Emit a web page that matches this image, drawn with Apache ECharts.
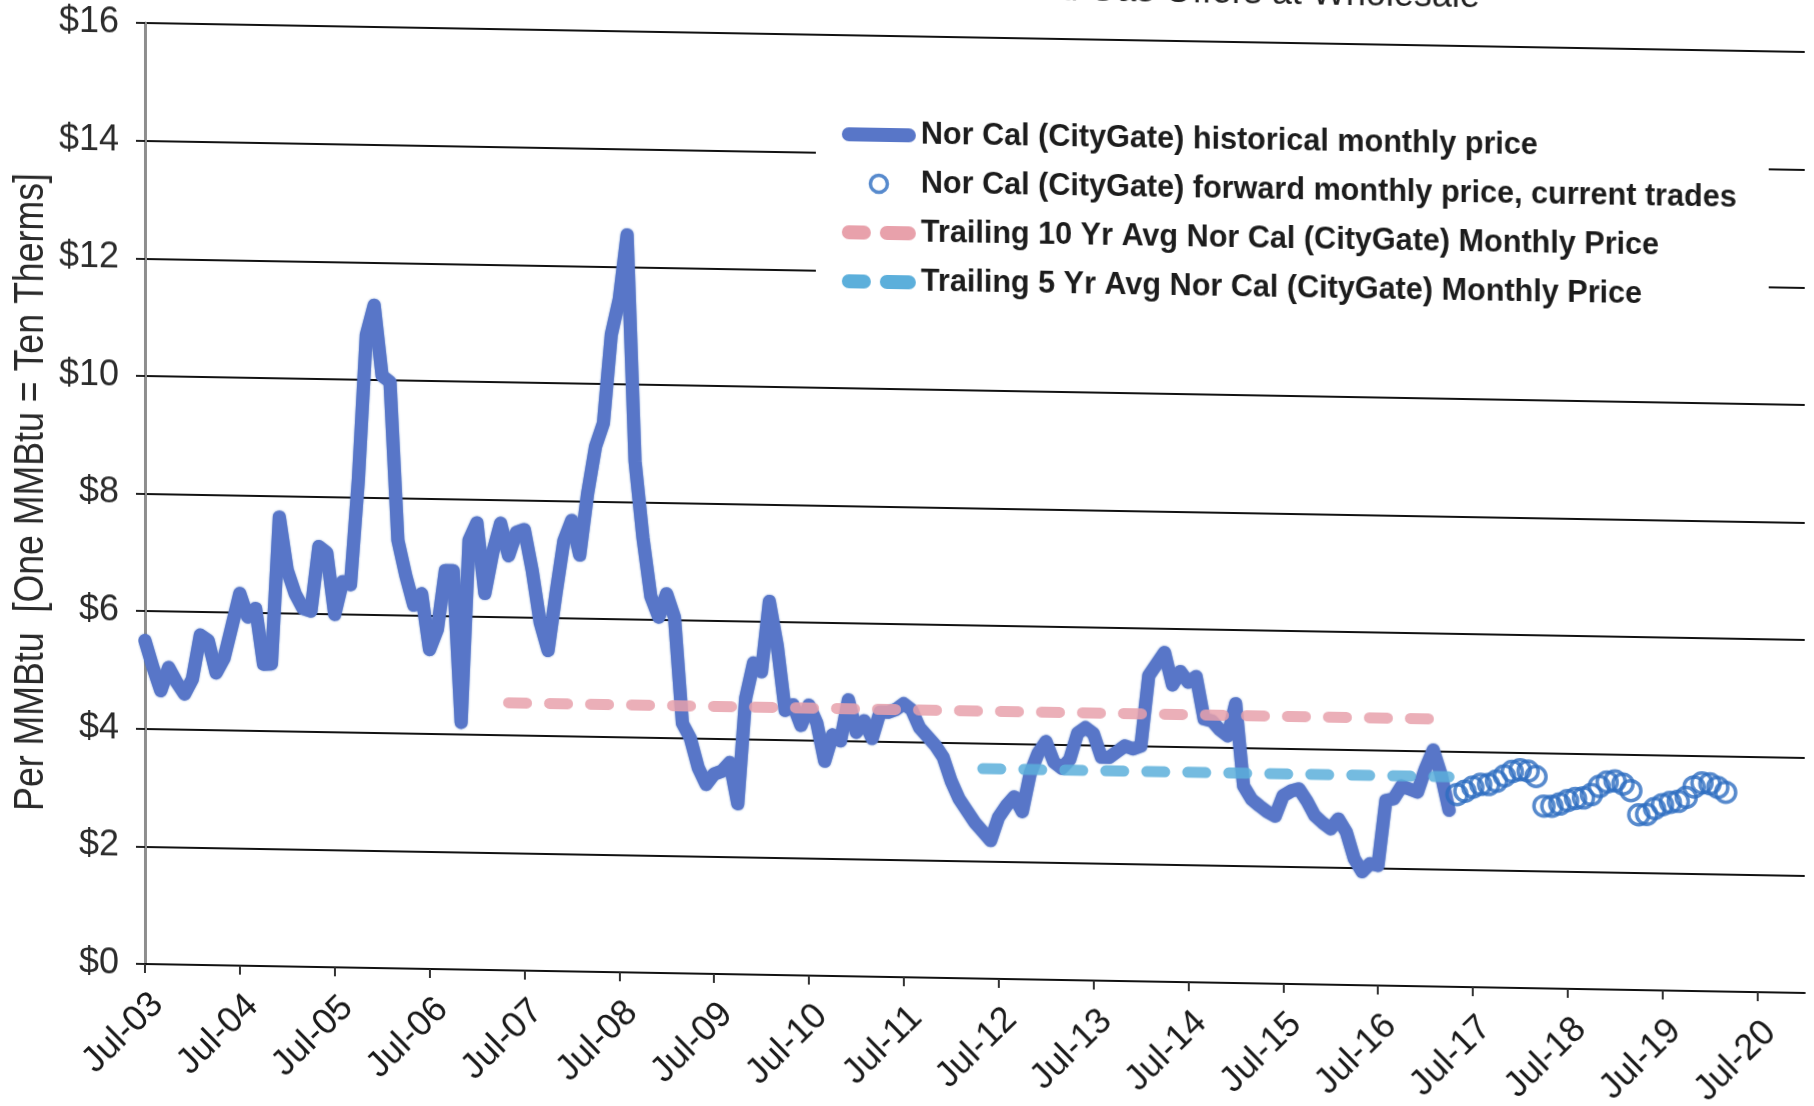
<!DOCTYPE html>
<html>
<head>
<meta charset="utf-8">
<title>Nor Cal (CityGate) Natural Gas Prices</title>
<script src="https://cdn.jsdelivr.net/npm/echarts/dist/echarts.min.js"></script>
<style>
  html, body { margin: 0; padding: 0; background: #fff; overflow: hidden; width: 1814px; height: 1106px; }
  /* the page is a slightly skewed scan: horizontals fall ~1 degree to the right */
  #chart { position: absolute; left: 0; top: -40px; width: 1814px; height: 1186px;
           transform: skewY(1deg); transform-origin: 145px 0; }
</style>
</head>
<body>
<div id="chart"></div>
<script>
// ---- monthly categories, Jul-03 through Jan-21 ----
const monthNames = ['Jan', 'Feb', 'Mar', 'Apr', 'May', 'Jun', 'Jul', 'Aug', 'Sep', 'Oct', 'Nov', 'Dec'];
const firstYear = 2003;
const firstMonth = 6;          // July
const monthCount = 211;        // Jul-03 .. Jan-21
const categories = [];
for (let i = 0; i < monthCount; i++) {
  const k = firstMonth + i;
  categories.push(monthNames[k % 12] + '-' + String((firstYear + Math.floor(k / 12)) % 100).padStart(2, '0'));
}

// ---- Nor Cal (CityGate) historical monthly price, $/MMBtu, Jul-03 .. Apr-17 ----
const historical = [
  5.50, 5.05, 4.65, 5.05, 4.80, 4.60, 4.86, 5.61, 5.52, 4.97, 5.22, 5.77,   // Jul-03 .. Jun-04
  6.33, 5.93, 6.08, 5.13, 5.14, 7.64, 6.74, 6.34, 6.09, 6.05, 7.15, 7.05,   // Jul-04 .. Jun-05
  6.00, 6.56, 6.51, 8.30, 10.76, 11.27, 10.07, 9.97, 7.28, 6.68, 6.18, 6.38, // Jul-05 .. Jun-06
  5.43, 5.78, 6.78, 6.78, 4.20, 7.30, 7.60, 6.40, 7.10, 7.60, 7.05, 7.45,   // Jul-06 .. Jun-07
  7.50, 6.80, 5.92, 5.45, 6.42, 7.32, 7.67, 7.08, 8.13, 8.93, 9.33, 10.84,  // Jul-07 .. Jun-08
  11.44, 12.54, 8.70, 7.40, 6.40, 6.05, 6.45, 6.05, 4.25, 4.00, 3.50, 3.22, // Jul-08 .. Jun-09
  3.40, 3.45, 3.60, 2.90, 4.70, 5.30, 5.15, 6.35, 5.60, 4.50, 4.60, 4.25,   // Jul-09 .. Jun-10
  4.60, 4.30, 3.65, 4.10, 4.00, 4.70, 4.15, 4.35, 4.05, 4.50, 4.50, 4.55,   // Jul-10 .. Jun-11
  4.65, 4.55, 4.25, 4.10, 3.95, 3.75, 3.35, 3.05, 2.85, 2.65, 2.50, 2.35,   // Jul-11 .. Jun-12
  2.75, 2.95, 3.10, 2.85, 3.50, 3.85, 4.05, 3.70, 3.60, 3.75, 4.20, 4.30,   // Jul-12 .. Jun-13
  4.20, 3.80, 3.80, 3.90, 4.00, 3.95, 4.00, 5.20, 5.40, 5.60, 5.05, 5.28,   // Jul-13 .. Jun-14
  5.10, 5.20, 4.48, 4.45, 4.30, 4.20, 4.75, 3.35, 3.13, 3.02, 2.92, 2.85,   // Jul-14 .. Jun-15
  3.20, 3.28, 3.32, 3.12, 2.87, 2.75, 2.65, 2.82, 2.60, 2.15, 1.93, 2.07,   // Jul-15 .. Jun-16
  2.04, 3.15, 3.18, 3.40, 3.35, 3.30, 3.70, 4.02, 3.60, 3.00                // Jul-16 .. Apr-17
];

// ---- forward monthly prices from current trades, May-17 .. Mar-20 ----
const forwardStart = 'May-17';
const forward = [
  3.27, 3.33, 3.40, 3.45, 3.45, 3.51, 3.60, 3.68, 3.71, 3.69, 3.60,         // May-17 .. Mar-18
  3.10, 3.10, 3.14, 3.20, 3.24, 3.25, 3.31, 3.45, 3.53, 3.55, 3.50, 3.39,   // Apr-18 .. Mar-19
  2.98, 2.99, 3.09, 3.16, 3.20, 3.22, 3.29, 3.47, 3.54, 3.53, 3.47, 3.39    // Apr-19 .. Mar-20
];

// ---- trailing averages and the months they span ----
const trailing10Span = ['May-07', 'Apr-17'];
const trailing10Value = 4.55;
const trailing5Span = ['May-12', 'Apr-17'];
const trailing5Value = 3.57;

const names = {
  hist: 'Nor Cal (CityGate) historical monthly price',
  fwd: 'Nor Cal (CityGate) forward monthly price, current trades',
  avg10: 'Trailing 10 Yr Avg Nor Cal (CityGate) Monthly Price',
  avg5: 'Trailing 5 Yr Avg Nor Cal (CityGate) Monthly Price'
};
const yTitle = 'Per MMBtu  [One MMBtu = Ten Therms]';
const pageTitle = 'Nor Cal Natural Gas Offers at Wholesale';

const colors = { hist: '#5876c8', fwd: '#2d6dc0', avg10: '#e8a1ab', avg5: '#5cafdb' };

const fwdIndex = categories.indexOf(forwardStart);
const forwardData = forward.map((v, i) => [fwdIndex + i, v]);
const spanData = (span, v) => span.map(c => [c, v]);

const baseFont = "'Liberation Sans', Arial, sans-serif";
const isJuly = (idx) => idx % 12 === 0;

const barIcon = 'path://M7,0H67A7,7,0,0,1,67,14H7A7,7,0,0,1,7,0Z';
const dashIcon = 'path://M7,0H22A7,7,0,0,1,22,14H7A7,7,0,0,1,7,0ZM45,0H67A7,7,0,0,1,67,14H45A7,7,0,0,1,45,0Z';

const chart = echarts.init(document.getElementById('chart'), null, { renderer: 'canvas' });

chart.setOption({
  animation: false,
  backgroundColor: '#ffffff',
  textStyle: { fontFamily: baseFont },
  graphic: [
    {
      // page heading, running off the top edge of the sheet
      type: 'text', x: 1480, y: 32, silent: true,
      style: {
        text: pageTitle, font: "36px 'Liberation Sans', Arial, sans-serif",
        fill: '#222', textAlign: 'right', textVerticalAlign: 'bottom'
      }
    },
    {
      // vertical axis title, set in a condensed face
      type: 'text', x: 31, y: 534, rotation: Math.PI / 2, scaleX: 0.85, silent: true,
      style: {
        text: yTitle, font: "42px 'Liberation Sans', Arial, sans-serif",
        fill: '#2a2a2a', textAlign: 'center', textVerticalAlign: 'middle'
      }
    }
  ],
  grid: { left: 145, right: 9, top: 63, bottom: 182, containLabel: false },
  legend: {
    left: 816, top: 131,
    orient: 'vertical',
    padding: [14, 32, 14, 26],
    backgroundColor: '#ffffff',
    itemWidth: 74, itemHeight: 17, itemGap: 15,
    selectedMode: false,
    textStyle: { fontFamily: baseFont, fontSize: 30.6, fontWeight: 'bold', color: '#1c1c1c', lineHeight: 34 },
    data: [
      { name: names.hist, icon: barIcon, itemStyle: { color: colors.hist } },
      { name: names.fwd, icon: 'circle', itemStyle: { color: '#ffffff', borderColor: colors.fwd, borderWidth: 3.5 } },
      { name: names.avg10, icon: dashIcon, itemStyle: { color: colors.avg10 } },
      { name: names.avg5, icon: dashIcon, itemStyle: { color: colors.avg5 } }
    ]
  },
  xAxis: {
    type: 'category',
    data: categories,
    boundaryGap: false,
    axisLine: { lineStyle: { color: '#111', width: 2 } },
    axisTick: { show: true, interval: isJuly, length: 9, lineStyle: { color: '#333', width: 2 } },
    axisLabel: {
      interval: isJuly, rotate: 45, margin: 22, verticalAlign: 'top',
      fontFamily: baseFont, fontSize: 36, color: '#1a1a1a'
    },
    splitLine: { show: false }
  },
  yAxis: {
    type: 'value',
    min: 0, max: 16, interval: 2,
    axisLine: { show: true, lineStyle: { color: '#8e8e8e', width: 3 } },
    axisTick: { show: true, length: 9, lineStyle: { color: '#222', width: 2 } },
    axisLabel: { formatter: v => '$' + v, margin: 26, fontFamily: baseFont, fontSize: 36, color: '#2b2b2b' },
    splitLine: { show: true, lineStyle: { color: '#111', width: 2 } }
  },
  series: [
    {
      name: names.hist, type: 'line', data: historical,
      symbol: 'none', z: 3,
      lineStyle: { color: colors.hist, width: 13, cap: 'round', join: 'round',
                   shadowColor: 'rgba(40, 90, 180, 0.7)', shadowBlur: 2 },
      itemStyle: { color: colors.hist }
    },
    {
      name: names.fwd, type: 'scatter', data: forwardData,
      symbol: 'circle', symbolSize: 20, z: 4,
      itemStyle: { color: 'rgba(255,255,255,0)', borderColor: colors.fwd, borderWidth: 3.5 }
    },
    {
      name: names.avg10, type: 'line', data: spanData(trailing10Span, trailing10Value),
      symbol: 'none', z: 5,
      lineStyle: { color: colors.avg10, width: 11, type: [18, 23], cap: 'round', opacity: 0.85 },
      itemStyle: { color: colors.avg10 }
    },
    {
      name: names.avg5, type: 'line', data: spanData(trailing5Span, trailing5Value),
      symbol: 'none', z: 5,
      lineStyle: { color: colors.avg5, width: 11, type: [18, 23], cap: 'round', opacity: 0.85 },
      itemStyle: { color: colors.avg5 }
    }
  ]
});
</script>
</body>
</html>
